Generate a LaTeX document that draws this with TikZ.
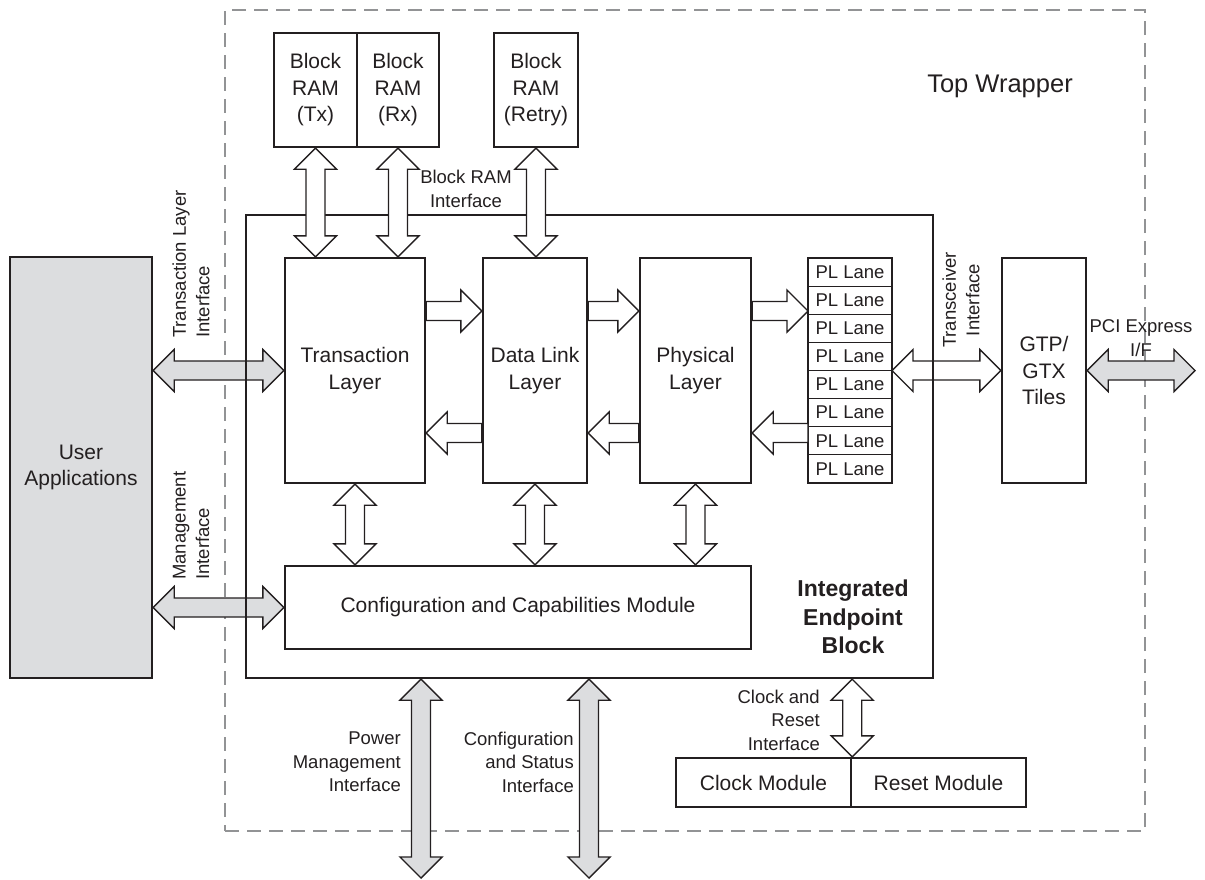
\documentclass[tikz,border=0pt]{standalone}
\usepackage{fontspec}
\setmainfont{Liberation Sans}
\usepackage{tikz}
\usetikzlibrary{calc}

\definecolor{ink}{HTML}{231F20}
\definecolor{shade}{HTML}{DCDDDF}
\definecolor{wrapgray}{HTML}{929395}

\newcommand{\blkfont}{\fontsize{21}{26.5}\selectfont}
\newcommand{\lblfont}{\fontsize{18.5}{23.5}\selectfont}

\tikzset{
  blk/.style={draw=ink, line width=2.4pt, fill=white, inner sep=0pt, align=center, text=ink, font=\blkfont},
  lane/.style={draw=ink, line width=1.2pt, outer sep=0pt, inner sep=0pt, minimum width=84pt, minimum height=28.125pt, text=ink, font=\lblfont},
  lbl/.style={inner sep=0pt, text=ink, font=\lblfont},
  fatboth/.style={draw=ink, line width=1.4pt, fill=white, to path={
    -- ($(\tikztostart)!21pt!(\tikztotarget)!21pt!90:(\tikztotarget)$)
    -- ($(\tikztostart)!21pt!(\tikztotarget)!9.5pt!90:(\tikztotarget)$)
    -- ($(\tikztotarget)!21pt!(\tikztostart)!9.5pt!-90:(\tikztostart)$)
    -- ($(\tikztotarget)!21pt!(\tikztostart)!21pt!-90:(\tikztostart)$)
    -- (\tikztotarget)
    -- ($(\tikztotarget)!21pt!(\tikztostart)!21pt!90:(\tikztostart)$)
    -- ($(\tikztotarget)!21pt!(\tikztostart)!9.5pt!90:(\tikztostart)$)
    -- ($(\tikztostart)!21pt!(\tikztotarget)!9.5pt!-90:(\tikztotarget)$)
    -- ($(\tikztostart)!21pt!(\tikztotarget)!21pt!-90:(\tikztotarget)$)
    -- cycle}},
  fatone/.style={draw=ink, line width=1.4pt, fill=white, to path={
    -- ($(\tikztostart)!9.5pt!90:(\tikztotarget)$)
    -- ($(\tikztotarget)!21pt!(\tikztostart)!9.5pt!-90:(\tikztostart)$)
    -- ($(\tikztotarget)!21pt!(\tikztostart)!21pt!-90:(\tikztostart)$)
    -- (\tikztotarget)
    -- ($(\tikztotarget)!21pt!(\tikztostart)!21pt!90:(\tikztostart)$)
    -- ($(\tikztotarget)!21pt!(\tikztostart)!9.5pt!90:(\tikztostart)$)
    -- ($(\tikztostart)!9.5pt!-90:(\tikztotarget)$)
    -- cycle}},
}

\begin{document}
\begin{tikzpicture}[x=1pt, y=-1pt]
    \useasboundingbox (0,0) rectangle (1205,879);

    \node[draw=wrapgray, line width=2.8pt, dash pattern=on 14pt off 8pt, minimum width=920pt, minimum height=821pt] (wrap) at (685,420.5) {};
    \node[text=ink, font=\fontsize{25.5}{30}\selectfont, anchor=base] (wraptxt) at (1000,92) {Top Wrapper};

    \node[blk, fill=shade, minimum width=142pt, minimum height=421pt] (ua) at (81,467.5) {User\\Applications};

    \node[blk, minimum width=83pt, minimum height=114pt] (tx) at (315.5,90) {Block\\RAM\\(Tx)};
    \node[blk, minimum width=82pt, minimum height=114pt] (rx) at (398,90) {Block\\RAM\\(Rx)};
    \node[blk, minimum width=84pt, minimum height=114pt] (retry) at (536,90) {Block\\RAM\\(Retry)};

    \node[blk, minimum width=140pt, minimum height=225pt] (tl) at (355,370.5) {Transaction\\Layer};
    \node[blk, minimum width=104pt, minimum height=225pt] (dl) at (535,370.5) {Data Link\\Layer};
    \node[blk, minimum width=111pt, minimum height=225pt] (phy) at (695.5,370.5) {Physical\\Layer};

    \foreach \i in {1,...,8}
        \node[lane] (pl\i) at (850,{243.94+28.125*\i}) {PL Lane};
    \draw[draw=ink, line width=2.4pt] (pl1.north west) rectangle (pl8.south east);

    \node[blk, minimum width=84pt, minimum height=225pt] (gtp) at (1044,370.5) {GTP/\\GTX\\Tiles};
    \node[blk, minimum width=466pt, minimum height=83pt] (cfg) at (518,607.5) {Configuration and Capabilities Module};

    \node[blk, minimum width=175pt, minimum height=49pt] (clk) at (763.5,782.5) {Clock Module};
    \node[blk, minimum width=175pt, minimum height=49pt] (rst) at (938.5,782.5) {Reset Module};

    \coordinate (fwd) at (0,311);
    \coordinate (bwd) at (0,433);
    \coordinate (pcie) at (1195,372);
    \coordinate (pwrend) at (421,878);
    \coordinate (cfgend) at (589,878);

    % arrows that pass under the endpoint border
    \draw[fatboth, fill=shade] (ua.east |- tl.west) to (tl.west);
    \draw[fatboth, fill=shade] (ua.east |- cfg.west) to (cfg.west);
    \draw[fatboth] (pl4.south east) to (gtp.west);

    \node[draw=ink, line width=2.4pt, minimum width=687pt, minimum height=463pt] (ieb) at (589.5,446.5) {};
    \node[text=ink, font=\fontsize{23}{28.5}\selectfont\bfseries, align=center] (iebtxt) at (853,617) {Integrated\\Endpoint\\Block};

    \draw[fatboth] (tx.south) to (tx.south |- tl.north);
    \draw[fatboth] (rx.south) to (rx.south |- tl.north);
    \draw[fatboth] (retry.south) to (retry.south |- dl.north);

    \draw[fatone] (tl.east |- fwd) to (dl.west |- fwd);
    \draw[fatone] (dl.east |- fwd) to (phy.west |- fwd);
    \draw[fatone] (phy.east |- fwd) to (pl2.west |- fwd);
    \draw[fatone] (dl.west |- bwd) to (tl.east |- bwd);
    \draw[fatone] (phy.west |- bwd) to (dl.east |- bwd);
    \draw[fatone] (pl7.west |- bwd) to (phy.east |- bwd);

    \draw[fatboth] (tl.south) to (tl.south |- cfg.north);
    \draw[fatboth] (dl.south) to (dl.south |- cfg.north);
    \draw[fatboth] (phy.south) to (phy.south |- cfg.north);

    \draw[fatboth, fill=shade] (gtp.east) to (gtp.east -| pcie);
    \draw[fatboth, fill=shade] (ieb.south -| pwrend) to (pwrend);
    \draw[fatboth, fill=shade] (ieb.south -| cfgend) to (cfgend);
    \draw[fatboth] (clk.north east) to (clk.north east |- ieb.south);

    % interface labels
    \node[lbl, align=center] (bramif) at (466,189) {Block RAM\\Interface};
    \node[lbl, rotate=90, anchor=west, align=left] (tlif) at (191,338) {Transaction Layer\\Interface};
    \node[lbl, rotate=90, anchor=west, align=left] (mgmtif) at (191,580) {Management\\Interface};
    \node[lbl, rotate=90, align=center] (xcvrif) at (961,300) {Transceiver\\Interface};
    \node[lbl, align=center] (pcieif) at (1141,338) {PCI Express\\I/F};
    \node[lbl, anchor=east, align=right] (pwrif) at (401,762) {Power\\Management\\Interface};
    \node[lbl, anchor=east, align=right] (cfgif) at (574,762) {Configuration\\and Status\\Interface};
    \node[lbl, anchor=east, align=right] (clkif) at (820,720) {Clock and\\Reset\\Interface};

\end{tikzpicture}
\end{document}
